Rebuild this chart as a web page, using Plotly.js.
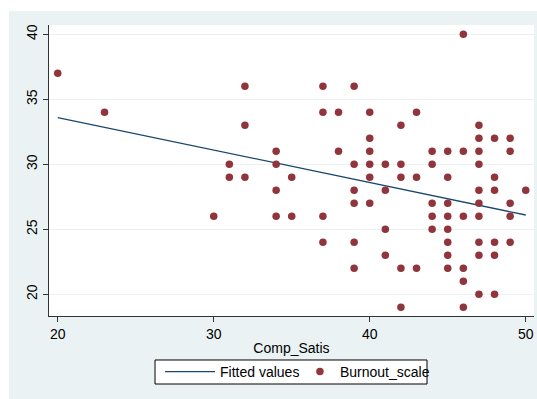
<!DOCTYPE html>
<html>
<head>
<meta charset="utf-8">
<script src="https://cdn.plot.ly/plotly-3.0.1.min.js"></script>
<style>
html, body { margin: 0; padding: 0; background: #ffffff; width: 537px; height: 399px; overflow: hidden; }
#chart { position: absolute; left: 9px; top: 11px; width: 528px; height: 388px; }
</style>
</head>
<body>
<div id="chart"></div>
<script>
// Scatter data: Comp_Satis (x) vs Burnout_scale (y)
const compSatis = [
  20, 23, 30,
  31, 31,
  32, 32, 32,
  34, 34, 34, 34,
  35, 35,
  37, 37, 37, 37,
  38, 38,
  39, 39, 39, 39, 39, 39,
  40, 40, 40, 40, 40, 40,
  41, 41, 41, 41,
  42, 42, 42, 42, 42,
  43, 43, 43,
  44, 44, 44, 44, 44,
  45, 45, 45, 45, 45, 45, 45, 45,
  46, 46, 46, 46, 46, 46,
  47, 47, 47, 47, 47, 47, 47, 47, 47, 47,
  48, 48, 48, 48, 48, 48,
  49, 49, 49, 49, 49,
  50
];
const burnoutScale = [
  37, 34, 26,
  30, 29,
  36, 33, 29,
  31, 30, 28, 26,
  29, 26,
  36, 34, 26, 24,
  34, 31,
  36, 30, 28, 27, 24, 22,
  34, 32, 31, 30, 29, 27,
  30, 28, 25, 23,
  33, 30, 29, 22, 19,
  34, 29, 22,
  31, 30, 27, 26, 25,
  31, 29, 27, 26, 25, 24, 23, 22,
  40, 31, 26, 22, 21, 19,
  33, 32, 31, 30, 28, 27, 26, 24, 23, 20,
  32, 29, 28, 24, 23, 20,
  32, 31, 27, 26, 24,
  28
];
// Fitted line endpoints
const fitX = [20, 50];
const fitY = [33.6, 26.1];

const xTicks = [20, 30, 40, 50];
const yTicks = [20, 25, 30, 35, 40];

const fontFam = 'Liberation Sans, Arial, sans-serif';
const txtFont = { family: fontFam, size: 14, color: '#000000' };

const traces = [
  {
    x: fitX, y: fitY, type: 'scatter', mode: 'lines', name: 'Fitted values',
    line: { color: '#1a476f', width: 1.3 }, legend: 'legend'
  },
  {
    x: compSatis, y: burnoutScale, type: 'scatter', mode: 'markers', name: 'Burnout_scale',
    marker: { color: '#90353b', size: 7.5, line: { width: 0 } }, legend: 'legend2'
  }
];

const layout = {
  width: 528, height: 388,
  paper_bgcolor: '#eaf2f3',
  plot_bgcolor: '#ffffff',
  font: txtFont,
  margin: { l: 40, r: 3, t: 14, b: 83 },
  showlegend: true,
  legend: {
    orientation: 'h',
    x: 0.286, xanchor: 'left', xref: 'container',
    y: 0.111, yanchor: 'top', yref: 'container',
    bgcolor: 'rgba(0,0,0,0)', borderwidth: 0,
    font: txtFont,
    itemwidth: 50
  },
  legend2: {
    orientation: 'h',
    x: 0.551, xanchor: 'left', xref: 'container',
    y: 0.111, yanchor: 'top', yref: 'container',
    bgcolor: 'rgba(0,0,0,0)', borderwidth: 0,
    font: txtFont,
    itemwidth: 30
  },
  shapes: [{
    type: 'rect', xref: 'paper', yref: 'paper',
    x0: 0.2186, x1: 0.7794, y0: -0.2337, y1: -0.1512,
    fillcolor: '#ffffff', line: { color: '#000000', width: 1 }, layer: 'above'
  }],
  xaxis: {
    range: [19.44, 50.53],
    tickvals: xTicks, ticktext: xTicks.map(String),
    showgrid: false, zeroline: false,
    showline: true, linecolor: '#333333', linewidth: 1.3,
    ticks: 'outside', ticklen: 5, tickcolor: '#333333', tickwidth: 1,
    tickfont: txtFont,
    title: { text: 'Comp_Satis', font: txtFont, standoff: 2 }
  },
  yaxis: {
    range: [18.33, 40.72],
    tickvals: yTicks, ticktext: yTicks.map(String),
    tickangle: -90,
    showgrid: true, gridcolor: '#eaf2f3', gridwidth: 1,
    zeroline: false,
    showline: true, linecolor: '#333333', linewidth: 1.3,
    ticks: 'outside', ticklen: 5, tickcolor: '#333333', tickwidth: 1,
    tickfont: txtFont
  }
};

Plotly.newPlot('chart', traces, layout, { displayModeBar: false, staticPlot: true });
</script>
</body>
</html>
